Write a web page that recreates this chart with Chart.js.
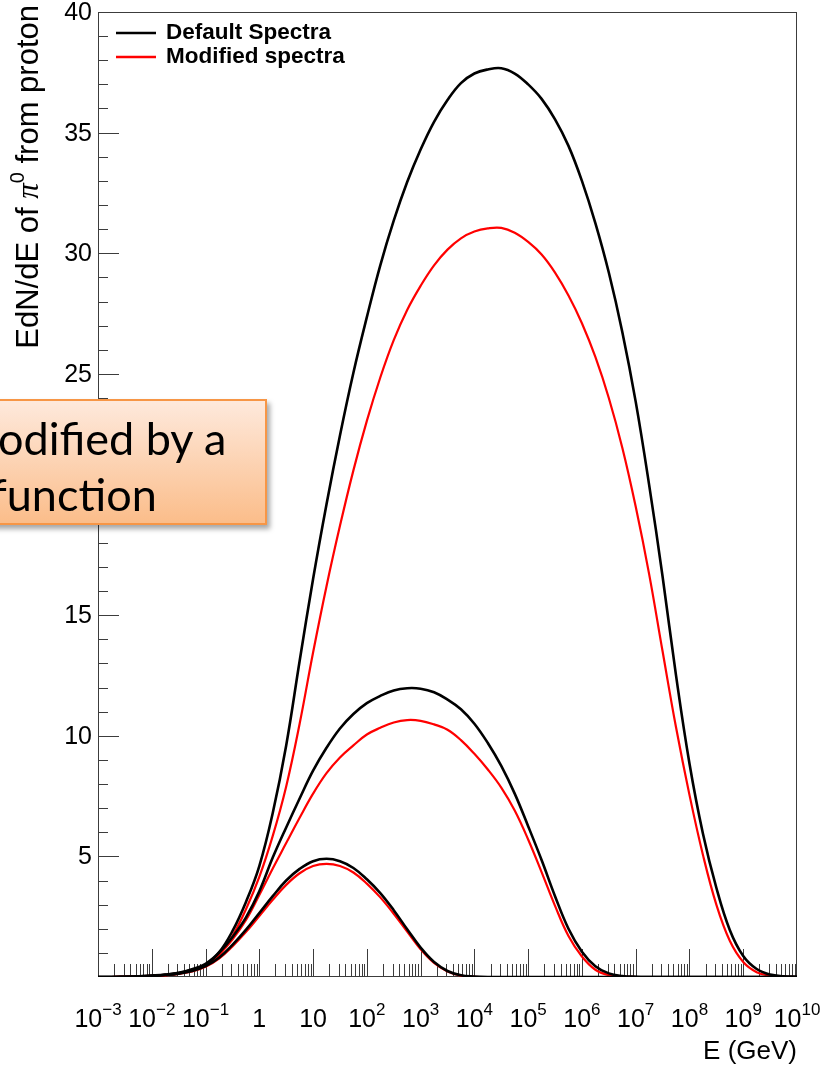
<!DOCTYPE html>
<html lang="en">
<head>
    <meta charset="UTF-8">
    <title>EdN/dE of pi0 from proton</title>
    <script src="https://cdn.jsdelivr.net/npm/chart.js"></script>
    <style>
        html, body {
            margin: 0;
            padding: 0;
            background: #fff;
            overflow: hidden;
        }
        .wrap {
            position: relative;
            width: 837px;
            height: 1065px;
        }
        .callout {
            position: absolute;
            left: -20px;
            top: 399px;
            width: 287px;
            height: 126px;
            box-sizing: border-box;
            border: 2px solid #f79646;
            background: linear-gradient(#fee9dc, #fbbd8a);
            box-shadow: 3px 4px 5px rgba(0, 0, 0, 0.35);
            font-family: Lato, "Open Sans", sans-serif;
            font-size: 45px;
            line-height: 45px;
            color: #000;
        }
        .callout span {
            position: absolute;
            white-space: nowrap;
        }
    </style>
</head>
<body>
<div class="wrap">
    <canvas id="spectra" width="837" height="1065"></canvas>
    <div class="callout">
        <span style="left: 16px; top: 15px;">odified by a</span>
        <span style="left: 9px; top: 71px;">function</span>
    </div>
</div>

<script>
    // log10(E / GeV) sampling points
    const energyExp = [
        -3, -2.75, -2.5, -2.25, -2, -1.75, -1.5, -1.25, -1, -0.75, -0.5, -0.25,
        0, 0.25, 0.5, 0.75, 1, 1.25, 1.5, 1.75, 2, 2.25, 2.5, 2.75,
        3, 3.25, 3.5, 3.75, 4, 4.25, 4.5, 4.75, 5, 5.25, 5.5, 5.75,
        6, 6.25, 6.5, 6.75, 7, 7.25, 7.5, 7.75, 8, 8.25, 8.5, 8.75,
        9, 9.25, 9.5, 9.75, 10
    ];

    // highest proton energy
    const defaultHigh = [
        0, 0, 0.01, 0.03, 0.06, 0.1, 0.17, 0.32, 0.55, 1.02, 1.9, 3.1,
        4.6, 6.8, 9.6, 13.1, 16.5, 19.6, 22.45, 25.05, 27.35, 29.5, 31.35, 32.95,
        34.3, 35.45, 36.35, 37.05, 37.45, 37.62, 37.67, 37.45, 37.0, 36.4, 35.55, 34.45,
        33.0, 31.25, 29.2, 26.75, 23.85, 20.4, 16.6, 12.5, 8.85, 5.95, 3.7, 1.95,
        0.87, 0.33, 0.1, 0.03, 0.01
    ];
    const modifiedHigh = [
        0, 0, 0.01, 0.02, 0.05, 0.09, 0.15, 0.28, 0.48, 0.9, 1.7, 2.8,
        4.15, 5.85, 7.9, 10.5, 13.45, 16.2, 18.7, 21.0, 23.05, 24.85, 26.4, 27.65,
        28.65, 29.5, 30.15, 30.62, 30.9, 31.03, 31.05, 30.85, 30.47, 29.95, 29.2, 28.25,
        27.1, 25.7, 24.0, 21.95, 19.5, 16.7, 13.5, 10.35, 7.55, 5.07, 3.0, 1.5,
        0.62, 0.2, 0.06, 0.02, 0
    ];

    // middle proton energy
    const defaultMid = [
        0, 0, 0.01, 0.02, 0.05, 0.09, 0.16, 0.3, 0.5, 1.0, 1.65, 2.46,
        3.55, 4.95, 6.2, 7.4, 8.55, 9.5, 10.3, 10.9, 11.35, 11.65, 11.88, 11.97,
        11.95, 11.8, 11.5, 11.1, 10.5, 9.7, 8.75, 7.6, 6.25, 4.85, 3.35, 2.0,
        1.05, 0.45, 0.15, 0.04, 0.01, 0, 0, 0, 0, 0, 0, 0,
        0, 0, 0, 0, 0
    ];
    const modifiedMid = [
        0, 0, 0.01, 0.02, 0.04, 0.08, 0.14, 0.27, 0.45, 0.92, 1.55, 2.35,
        3.4, 4.5, 5.55, 6.6, 7.6, 8.45, 9.1, 9.6, 10.05, 10.33, 10.55, 10.65,
        10.62, 10.47, 10.25, 9.82, 9.25, 8.6, 7.85, 6.9, 5.7, 4.35, 2.95, 1.7,
        0.85, 0.3, 0.08, 0.02, 0, 0, 0, 0, 0, 0, 0, 0,
        0, 0, 0, 0, 0
    ];

    // lowest proton energy
    const defaultLow = [
        0, 0, 0.01, 0.02, 0.04, 0.08, 0.14, 0.25, 0.45, 0.8, 1.33, 1.95,
        2.65, 3.35, 4.0, 4.48, 4.8, 4.9, 4.8, 4.52, 4.05, 3.48, 2.77, 1.98,
        1.22, 0.62, 0.25, 0.07, 0.02, 0, 0, 0, 0, 0, 0, 0,
        0, 0, 0, 0, 0, 0, 0, 0, 0, 0, 0, 0,
        0, 0, 0, 0, 0
    ];
    const modifiedLow = [
        0, 0, 0.01, 0.02, 0.04, 0.07, 0.13, 0.23, 0.42, 0.76, 1.27, 1.86,
        2.53, 3.2, 3.82, 4.3, 4.6, 4.69, 4.6, 4.33, 3.87, 3.3, 2.62, 1.88,
        1.15, 0.58, 0.23, 0.06, 0.01, 0, 0, 0, 0, 0, 0, 0,
        0, 0, 0, 0, 0, 0, 0, 0, 0, 0, 0, 0,
        0, 0, 0, 0, 0
    ];

    const yTickLabels = ['5', '10', '15', '20', '25', '30', '35', '40'];
    const decades = [-3, -2, -1, 0, 1, 2, 3, 4, 5, 6, 7, 8, 9, 10];

    const FONT = '"Liberation Sans", Arial, Helvetica, sans-serif';

    function toPoints(values) {
        return values.map((v, i) => ({ x: Math.pow(10, energyExp[i]), y: v }));
    }

    function spectrum(label, values, color, width) {
        return {
            label: label,
            data: toPoints(values),
            borderColor: color,
            backgroundColor: color,
            borderWidth: width,
            pointRadius: 0,
            fill: false,
            tension: 0.4
        };
    }

    // draws a row of text pieces with their own fonts and vertical shifts
    function drawRuns(ctx, runs, x, y, align) {
        let total = 0;
        runs.forEach(r => {
            ctx.font = r.font;
            r.w = ctx.measureText(r.text).width;
            total += r.w;
        });
        let cx = x;
        if (align === 'right') cx = x - total;
        if (align === 'center') cx = x - total / 2;
        ctx.textAlign = 'left';
        ctx.textBaseline = 'alphabetic';
        runs.forEach(r => {
            ctx.font = r.font;
            ctx.fillText(r.text, cx, y - (r.rise || 0));
            cx += r.w;
        });
    }

    // ROOT style frame, inward ticks, labels, titles and legend
    const rootFrame = {
        id: 'rootFrame',
        beforeDatasetsDraw(chart) {
            const { ctx, chartArea: a, scales: { x, y } } = chart;
            ctx.save();
            ctx.strokeStyle = '#3c3c3c';
            ctx.lineWidth = 1;
            ctx.strokeRect(a.left + 0.5, a.top + 0.5, a.right - a.left - 1, a.bottom - a.top - 1);

            ctx.beginPath();
            for (let v = 1; v < 40; v++) {
                const py = Math.round(y.getPixelForValue(v)) + 0.5;
                const len = v % 5 === 0 ? 21 : 10;
                ctx.moveTo(a.left, py);
                ctx.lineTo(a.left + len, py);
            }
            for (let d = -3; d < 10; d++) {
                for (let m = 1; m <= 9; m++) {
                    if (d === -3 && m === 1) continue;
                    const px = Math.round(x.getPixelForValue(m * Math.pow(10, d))) + 0.5;
                    const len = m === 1 ? 28 : 13;
                    ctx.moveTo(px, a.bottom);
                    ctx.lineTo(px, a.bottom - len);
                }
            }
            ctx.stroke();
            ctx.restore();
        },
        afterDraw(chart) {
            const { ctx, chartArea: a, scales: { x, y } } = chart;
            ctx.save();
            ctx.fillStyle = '#000';

            // y tick labels
            ctx.font = '25px ' + FONT;
            ctx.textAlign = 'right';
            ctx.textBaseline = 'middle';
            yTickLabels.forEach(t => {
                ctx.fillText(t, a.left - 6, y.getPixelForValue(Number(t)) + 1);
            });

            // x tick labels, powers of ten
            decades.forEach(d => {
                const px = x.getPixelForValue(Math.pow(10, d));
                let runs;
                if (d === 0) runs = [{ text: '1', font: '25px ' + FONT }];
                else if (d === 1) runs = [{ text: '10', font: '25px ' + FONT }];
                else runs = [
                    { text: '10', font: '25px ' + FONT },
                    { text: d < 0 ? '\u2212' + (-d) : String(d), font: '17px ' + FONT, rise: 12 }
                ];
                drawRuns(ctx, runs, px, 1027, 'center');
            });

            // x axis title
            drawRuns(ctx, [{ text: 'E (GeV)', font: '26px ' + FONT }], a.right, 1059, 'right');

            // y axis title, rotated and aligned to the top of the axis
            ctx.save();
            ctx.translate(38, 5);
            ctx.rotate(-Math.PI / 2);
            drawRuns(ctx, [
                { text: 'EdN/dE of ', font: '31px ' + FONT },
                { text: '\u03c0', font: 'italic 31px "Liberation Serif", serif' },
                { text: '0', font: '20px ' + FONT, rise: 14 },
                { text: ' from proton', font: '31px ' + FONT }
            ], 0, 0, 'right');
            ctx.restore();

            // legend
            const entries = [chart.data.datasets[0], chart.data.datasets[3]];
            entries.forEach((ds, i) => {
                const cy = 33 + i * 24;
                ctx.strokeStyle = ds.borderColor;
                ctx.lineWidth = 2.7;
                ctx.beginPath();
                ctx.moveTo(a.left + 18, cy);
                ctx.lineTo(a.left + 58, cy);
                ctx.stroke();
                ctx.fillStyle = '#000';
                drawRuns(ctx, [{ text: ds.label, font: 'bold 22.5px ' + FONT }], a.left + 68, cy + 6, 'left');
            });
            ctx.restore();
        }
    };

    new Chart(document.getElementById('spectra'), {
        type: 'line',
        data: {
            datasets: [
                spectrum('Default Spectra', defaultHigh, '#000000', 2.6),
                spectrum('Default Spectra', defaultMid, '#000000', 2.6),
                spectrum('Default Spectra', defaultLow, '#000000', 2.6),
                spectrum('Modified spectra', modifiedHigh, '#ff0000', 2.2),
                spectrum('Modified spectra', modifiedMid, '#ff0000', 2.2),
                spectrum('Modified spectra', modifiedLow, '#ff0000', 2.2)
            ]
        },
        options: {
            responsive: false,
            animation: false,
            layout: { padding: { left: 98, right: 40, top: 12, bottom: 88 } },
            plugins: {
                legend: { display: false },
                tooltip: { enabled: false }
            },
            scales: {
                x: { type: 'logarithmic', min: 1e-3, max: 1e10, display: false },
                y: { type: 'linear', min: 0, max: 40, display: false }
            }
        },
        plugins: [rootFrame]
    });
</script>
</body>
</html>
